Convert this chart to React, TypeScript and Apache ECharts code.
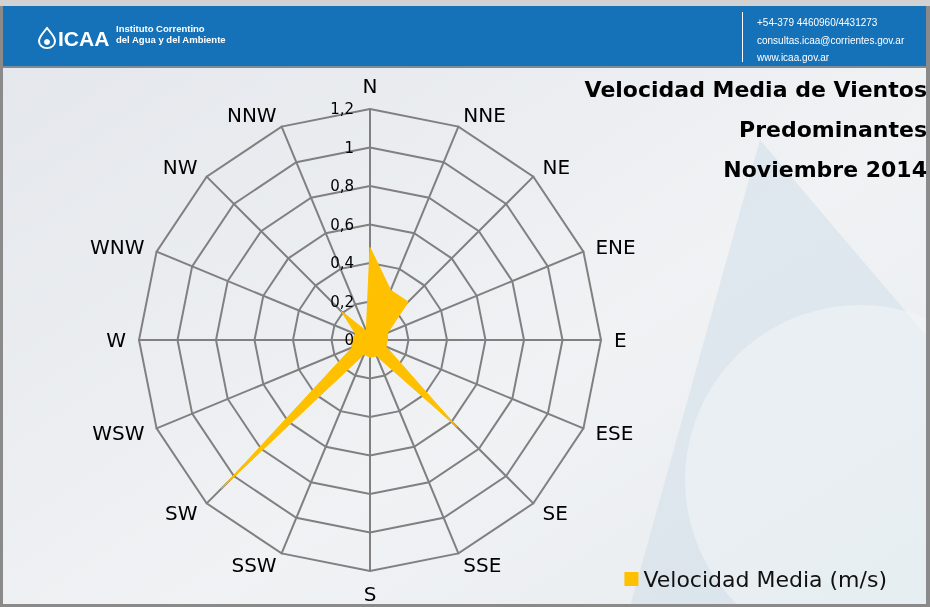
import React, { useEffect, useRef } from 'react';
import * as echarts from 'echarts';

const directions = ['N', 'NNE', 'NE', 'ENE', 'E', 'ESE', 'SE', 'SSE', 'S', 'SSW', 'SW', 'WSW', 'W', 'WNW', 'NW', 'NNW'];
const velocidadMedia = [0.48, 0.28, 0.28, 0.1, 0.09, 0.09, 0.64, 0.09, 0.09, 0.08, 1.09, 0.1, 0.1, 0.08, 0.21, 0.05];
const seriesName = 'Velocidad Media (m/s)';
const axisMin = 0;
const axisMax = 1.2;
const axisStep = 0.2;
const titleLines = ['Velocidad Media de Vientos', 'Predominantes', 'Noviembre 2014'];
const orgLines = ['Instituto Correntino', 'del Agua y del Ambiente'];
const contactLines = ['+54-379 4460960/4431273', 'consultas.icaa@corrientes.gov.ar', 'www.icaa.gov.ar'];

const FONT = '"DejaVu Sans", "Noto Sans", sans-serif';
const NARROW = '"Liberation Sans Narrow", "Liberation Sans", sans-serif';

const CX = 370;
const CY = 340;
const R = 231;

let registered = false;
function registerShapes() {
  if (registered) return;
  registered = true;
  echarts.graphic.registerShape(
    'drop',
    echarts.graphic.extendPath(
      'M10 0 C6 6 0 12 0 18 C0 24 4.5 28 10 28 C15.5 28 20 24 20 18 C20 12 14 6 10 0 Z',
      {}
    )
  );
}

export default function App() {
  const ref = useRef<HTMLDivElement>(null);

  useEffect(() => {
    if (!ref.current) return;
    registerShapes();
    const chart = echarts.init(ref.current, undefined, { renderer: 'svg' });

    // ECharts radar places indicators counter-clockwise; reorder so N, NNE, NE... run clockwise.
    const order = directions.map((_, i) => (directions.length - i) % directions.length);
    const indicator = order.map((k) => ({ name: directions[k], min: axisMin, max: axisMax }));
    const values = order.map((k) => velocidadMedia[k]);

    const fmt = (v: number) => String(+Number(v).toFixed(1)).replace('.', ',');

    const headerText = (text: string, x: number, y: number, font: string, extra: any = {}) => ({
      type: 'text',
      z: 10,
      x,
      y,
      style: { text, fill: '#ffffff', font, verticalAlign: 'middle', ...extra },
      silent: true,
    });

    chart.setOption({
      animation: false,
      graphic: [
        {
          type: 'rect',
          z: -100,
          shape: { x: 0, y: 0, width: 930, height: 607 },
          style: {
            fill: new echarts.graphic.LinearGradient(0, 0, 1, 1, [
              { offset: 0, color: '#e3e6eb' },
              { offset: 0.6, color: '#f0f2f4' },
              { offset: 1, color: '#e8ecf0' },
            ]),
          },
          silent: true,
        },
        {
          type: 'polygon',
          z: -90,
          shape: { points: [[630, 607], [760, 140], [930, 340], [930, 607]] },
          style: { fill: 'rgba(175,203,224,0.25)' },
          silent: true,
        },
        {
          type: 'circle',
          z: -89,
          shape: { cx: 860, cy: 480, r: 175 },
          style: { fill: 'rgba(242,245,248,0.55)' },
          silent: true,
        },
        {
          type: 'rect',
          z: -80,
          shape: { x: 0, y: 0, width: 930, height: 6 },
          style: { fill: '#d2d2d2' },
          silent: true,
        },
        {
          type: 'rect',
          z: -80,
          shape: { x: 3, y: 6, width: 923, height: 62 },
          style: { fill: '#1672b8' },
          silent: true,
        },
        {
          type: 'rect',
          z: -79,
          shape: { x: 3, y: 66, width: 923, height: 2 },
          style: { fill: '#7f8c96' },
          silent: true,
        },
        {
          type: 'rect',
          z: -79,
          shape: { x: 0, y: 6, width: 3, height: 601 },
          style: { fill: '#8a8a8a' },
          silent: true,
        },
        {
          type: 'rect',
          z: -79,
          shape: { x: 926, y: 6, width: 4, height: 601 },
          style: { fill: '#8a8a8a' },
          silent: true,
        },
        {
          type: 'rect',
          z: -79,
          shape: { x: 0, y: 604, width: 930, height: 3 },
          style: { fill: '#8a8a8a' },
          silent: true,
        },
        {
          type: 'drop',
          z: 10,
          x: 39,
          y: 28,
          scaleX: 0.8,
          scaleY: 0.72,
          style: { fill: 'none', stroke: '#ffffff', lineWidth: 2.5 },
          silent: true,
        },
        {
          type: 'circle',
          z: 10,
          shape: { cx: 47, cy: 42, r: 3 },
          style: { fill: '#ffffff' },
          silent: true,
        },
        headerText('ICAA', 58, 38, `bold 21px ${NARROW}`),
        headerText(orgLines.join('\n'), 116, 34, `bold 9.5px ${NARROW}`, { lineHeight: 11 }),
        {
          type: 'rect',
          z: 10,
          shape: { x: 742, y: 12, width: 1, height: 50 },
          style: { fill: '#ffffff' },
          silent: true,
        },
        headerText(contactLines[0], 757, 22, `10px ${NARROW}`),
        headerText(contactLines[1], 757, 40, `10px ${NARROW}`),
        headerText(contactLines[2], 757, 57, `10px ${NARROW}`),
        ...titleLines.map((t, i) => ({
          type: 'text',
          z: 10,
          x: 927,
          y: 89 + i * 40,
          style: {
            text: t,
            fill: '#000000',
            font: `bold 22px ${FONT}`,
            align: 'right',
            verticalAlign: 'middle',
          },
          silent: true,
        })),
      ],
      legend: {
        right: 38,
        bottom: 12,
        icon: 'rect',
        itemWidth: 14,
        itemHeight: 14,
        itemGap: 8,
        textStyle: { color: '#111', fontSize: 22, fontFamily: FONT },
        data: [seriesName],
      },
      // Invisible value axis aligned with the N spoke, carrying the radial tick labels on its left side.
      grid: { left: CX, top: CY - R, width: 1, height: R, containLabel: false },
      xAxis: { type: 'value', show: false, min: 0, max: 1 },
      yAxis: {
        type: 'value',
        min: axisMin,
        max: axisMax,
        interval: axisStep,
        position: 'left',
        axisLine: { show: false },
        axisTick: { show: false },
        splitLine: { show: false },
        axisLabel: { color: '#000', fontSize: 15, fontFamily: FONT, margin: 16, formatter: fmt },
        z: 5,
      },
      radar: {
        center: [CX, CY],
        radius: R,
        startAngle: 90,
        shape: 'polygon',
        splitNumber: 6,
        nameGap: 13,
        axisName: { color: '#000', fontSize: 20, fontFamily: FONT },
        axisLine: { lineStyle: { color: '#808080', width: 2 } },
        splitLine: { lineStyle: { color: '#808080', width: 2 } },
        splitArea: { show: false },
        axisTick: { show: false },
        axisLabel: { show: false },
        indicator,
      },
      series: [
        {
          type: 'radar',
          name: seriesName,
          symbol: 'none',
          itemStyle: { color: '#FFC000' },
          lineStyle: { color: '#FFC000', width: 1 },
          areaStyle: { color: '#FFC000', opacity: 1 },
          data: [{ value: values, name: seriesName }],
        },
      ],
    });

    return () => chart.dispose();
  }, []);

  return (
    <div
      ref={ref}
      style={{ position: 'fixed', left: 0, top: 0, width: 930, height: 607 }}
    />
  );
}
